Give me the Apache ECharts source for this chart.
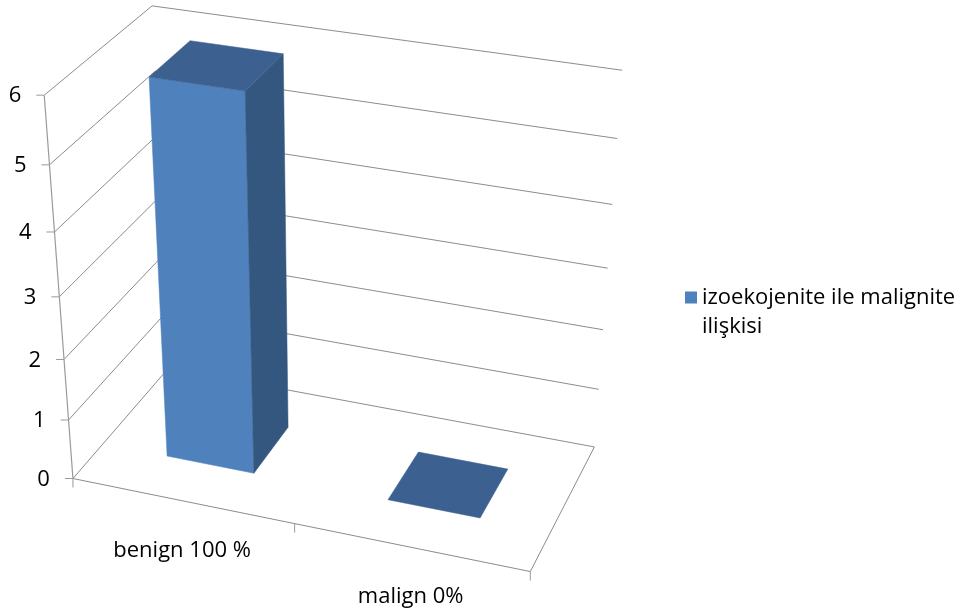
<!DOCTYPE html>
<html>
<head>
<meta charset="utf-8">
<script src="https://cdn.jsdelivr.net/npm/echarts@6/dist/echarts.min.js"></script>
<style>
  html, body { margin: 0; padding: 0; background: #ffffff; }
  #chart { width: 964px; height: 614px; }
</style>
</head>
<body>
<div id="chart"></div>
<script>
// ---- data -------------------------------------------------------------
const categories = ['benign 100 %', 'malign 0%'];
const caseCounts = [6, 0];
const seriesName = 'izoekojenite ile malignite ilişkisi';
const valueTicks = [0, 1, 2, 3, 4, 5, 6];

// ---- 3-D box camera ----------------------------------------------------
// World space: x runs along the categories (0..1), y is height (0..1 of the
// value axis), z is depth (0 = front, 1 = back wall). The camera is solved
// (least squares, 3x4 projective matrix) from where the box corners sit.
const boxAnchors = [
  [0, 0, 0, 73, 479], [0, 1 / 6, 0, 69, 420], [0, 2 / 6, 0, 64, 359],
  [0, 3 / 6, 0, 59, 297], [0, 4 / 6, 0, 54, 232], [0, 5 / 6, 0, 49, 165],
  [0, 1, 0, 45, 95],
  [1, 1, 1, 622, 71], [1, 5 / 6, 1, 617, 138], [1, 4 / 6, 1, 613, 204],
  [1, 3 / 6, 1, 608, 268], [1, 2 / 6, 1, 603, 330], [1, 0, 1, 594, 447],
  [1, 0, 0, 530, 572], [0, 1, 1, 152, 6], [0.5, 0, 0, 295, 523]
];

function solveLinear(M, r) {
  const n = r.length;
  const A = M.map((row, i) => row.concat([r[i]]));
  for (let c = 0; c < n; c++) {
    let p = c;
    for (let k = c + 1; k < n; k++) if (Math.abs(A[k][c]) > Math.abs(A[p][c])) p = k;
    [A[c], A[p]] = [A[p], A[c]];
    for (let k = c + 1; k < n; k++) {
      const f = A[k][c] / A[c][c];
      for (let j = c; j <= n; j++) A[k][j] -= f * A[c][j];
    }
  }
  const x = new Array(n).fill(0);
  for (let i = n - 1; i >= 0; i--) {
    let s = A[i][n];
    for (let j = i + 1; j < n; j++) s -= A[i][j] * x[j];
    x[i] = s / A[i][i];
  }
  return x;
}

function fitCamera(anchors) {
  const rows = [], rhs = [];
  anchors.forEach(([X, Y, Z, u, v]) => {
    rows.push([X, Y, Z, 1, 0, 0, 0, 0, -u * X, -u * Y, -u * Z]); rhs.push(u);
    rows.push([0, 0, 0, 0, X, Y, Z, 1, -v * X, -v * Y, -v * Z]); rhs.push(v);
  });
  const n = 11;
  const N = Array.from({ length: n }, () => new Array(n).fill(0));
  const t = new Array(n).fill(0);
  rows.forEach((row, k) => {
    for (let i = 0; i < n; i++) {
      t[i] += row[i] * rhs[k];
      for (let j = 0; j < n; j++) N[i][j] += row[i] * row[j];
    }
  });
  return solveLinear(N, t);
}

const cam = fitCamera(boxAnchors);
function project(X, Y, Z) {
  const w = cam[8] * X + cam[9] * Y + cam[10] * Z + 1;
  return [
    (cam[0] * X + cam[1] * Y + cam[2] * Z + cam[3]) / w,
    (cam[4] * X + cam[5] * Y + cam[6] * Z + cam[7]) / w
  ];
}

// Grid pixel -> normalised world coordinate
const worldX = (px, cs) => (px - cs.x) / cs.width;
const worldY = (py, cs) => (cs.y + cs.height - py) / cs.height;

// ---- styling ------------------------------------------------------------
const FONT_FAMILY = '"Open Sans", Lato, sans-serif';
const FONT = '22px ' + FONT_FAMILY;
const GRID_COLOR = '#8c8c8c';
const AXIS_COLOR = '#9a9a9a';
const FACE_FRONT = '#4f81bd';
const FACE_SIDE = '#34577f';
const FACE_TOP = '#3c6190';
const BAR_SHARE = 0.4;          // bar width as a share of its category band
const DEPTH_FRONT = 0.3, DEPTH_BACK = 0.7;

// Walls: one gridline per value tick, across the left wall and the back wall
function renderWalls(params, api) {
  const cs = params.coordSys;
  const tick = api.value(1);
  const y = worldY(api.coord([0, tick])[1], cs);
  const a = project(0, y, 0), b = project(0, y, 1), c = project(1, y, 1);
  return {
    type: 'group',
    children: [
      { type: 'polyline', shape: { points: [a, b, c] },
        style: { stroke: GRID_COLOR, lineWidth: 1, fill: null } },
      { type: 'line', shape: { x1: a[0] - 8, y1: a[1], x2: a[0], y2: a[1] },
        style: { stroke: AXIS_COLOR, lineWidth: 1 } },
      { type: 'text', x: a[0] - 23, y: a[1] + 1,
        style: { text: String(tick), align: 'right', verticalAlign: 'middle',
                 font: FONT, fill: '#000' } }
    ]
  };
}

// Value axis line, floor front and right edges, category ticks
function renderFloor(params, api) {
  const cs = params.coordSys;
  const band = api.size([1, 0])[0];
  const edges = [cs.x];
  categories.forEach((c, i) => edges.push(api.coord([i, 0])[0] + band / 2));
  const yTop = worldY(api.coord([0, valueTicks[valueTicks.length - 1]])[1], cs);
  const o = project(0, 0, 0);
  const top = project(0, yTop, 0);
  const children = [
    { type: 'line', shape: { x1: o[0], y1: o[1], x2: top[0], y2: top[1] },
      style: { stroke: AXIS_COLOR, lineWidth: 1.2 } },
    { type: 'polyline', shape: { points: [o, project(1, 0, 0), project(1, 0, 1)] },
      style: { stroke: GRID_COLOR, lineWidth: 1, fill: null } }
  ];
  edges.forEach(px => {
    const p = project(worldX(px, cs), 0, 0);
    children.push({ type: 'line', shape: { x1: p[0], y1: p[1], x2: p[0], y2: p[1] + 9 },
      style: { stroke: AXIS_COLOR, lineWidth: 1 } });
  });
  return { type: 'group', children };
}

function renderCategoryLabel(params, api) {
  const cs = params.coordSys;
  const i = api.value(0);
  const p = project(worldX(api.coord([i, 0])[0], cs), 0, 0);
  return { type: 'text', x: p[0], y: p[1] + 50,
    style: { text: categories[i], align: 'center', verticalAlign: 'middle', font: FONT, fill: '#000' } };
}

// Bars as boxes: front face, right face and top
function renderBar(params, api) {
  const cs = params.coordSys;
  const i = api.value(0);
  const band = api.size([1, 0])[0];
  const cx = api.coord([i, 0])[0];
  const x0 = worldX(cx - band * BAR_SHARE / 2, cs);
  const x1 = worldX(cx + band * BAR_SHARE / 2, cs);
  const y0 = worldY(api.coord([i, 0])[1], cs);
  const y1 = worldY(api.coord([i, api.value(1)])[1], cs);
  const z0 = DEPTH_FRONT, z1 = DEPTH_BACK;
  const poly = (pts, fill) => ({ type: 'polygon', shape: { points: pts.map(q => project(q[0], q[1], q[2])) },
    style: { fill, stroke: fill, lineWidth: 0.5 } });
  const children = [];
  if (y1 > y0) {
    children.push(poly([[x0, y0, z0], [x1, y0, z0], [x1, y1, z0], [x0, y1, z0]], FACE_FRONT));
    children.push(poly([[x1, y0, z0], [x1, y0, z1], [x1, y1, z1], [x1, y1, z0]], FACE_SIDE));
  }
  children.push(poly([[x0, y1, z0], [x1, y1, z0], [x1, y1, z1], [x0, y1, z1]], FACE_TOP));
  return { type: 'group', children };
}

const chart = echarts.init(document.getElementById('chart'), null, { renderer: 'canvas' });
chart.setOption({
  animation: false,
  backgroundColor: '#ffffff',
  grid: { left: 0, top: 0, width: 600, height: 600, show: false },
  xAxis: { type: 'category', data: categories, show: false },
  yAxis: { type: 'value', min: 0, max: 6, interval: 1, show: false },
  legend: {
    // square swatch kept at the top of a tall icon box so it sits beside the first text line
    data: [{ name: seriesName, icon: 'path://M0,0L12,0L12,12L0,12Z M0,41L0.01,41L0.01,40.99Z' }],
    left: 680, top: 278,
    itemWidth: 12, itemHeight: 41, itemGap: 10,
    formatter: name => name.replace(' ilişkisi', '\nilişkisi'),
    textStyle: { fontFamily: FONT_FAMILY, fontSize: 22, color: '#000', lineHeight: 29 },
    selectedMode: false
  },
  series: [
    { type: 'custom', name: 'walls', coordinateSystem: 'cartesian2d', clip: false, z: 1,
      renderItem: renderWalls, data: valueTicks.map(t => [0, t]), silent: true },
    { type: 'custom', name: 'floor', coordinateSystem: 'cartesian2d', clip: false, z: 1,
      renderItem: renderFloor, data: [[0, 0]], silent: true },
    { type: 'custom', name: seriesName, coordinateSystem: 'cartesian2d', clip: false, z: 3,
      itemStyle: { color: FACE_FRONT },
      renderItem: renderBar, data: caseCounts.map((v, i) => [i, v]) },
    { type: 'custom', name: 'categoryLabels', coordinateSystem: 'cartesian2d', clip: false, z: 5,
      renderItem: renderCategoryLabel, data: categories.map((c, i) => [i, 0]), silent: true }
  ]
});
</script>
</body>
</html>
